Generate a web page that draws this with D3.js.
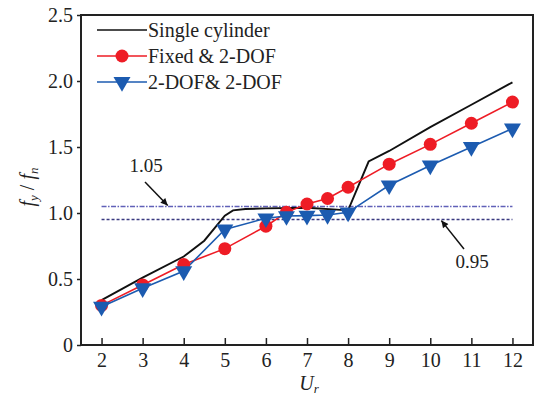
<!DOCTYPE html>
<html>
<head>
<meta charset="utf-8">
<script src="https://cdn.jsdelivr.net/npm/d3@7"></script>
<style>
body { margin: 0; background: #fff; }
svg { display: block; font-family: "Liberation Serif", "Times New Roman", serif; }
</style>
</head>
<body>
<div id="main"></div>
<script>
// data
var singleX = [2, 3, 4, 4.5, 5, 5.2, 5.5, 6, 7, 8, 8.5, 9, 10, 11, 12];
var singleY = [0.34, 0.51, 0.67, 0.79, 0.98, 1.02, 1.03, 1.035, 1.04, 1.02, 1.39, 1.47, 1.65, 1.82, 1.99];
var fixedX = [2, 3, 4, 5, 6, 6.5, 7, 7.5, 8, 9, 10, 11, 12];
var fixedY = [0.30, 0.455, 0.61, 0.73, 0.90, 1.005, 1.068, 1.11, 1.195, 1.37, 1.52, 1.68, 1.84];
var dofX = [2, 3, 4, 5, 6, 6.5, 7, 7.5, 8, 9, 10, 11, 12];
var dofY = [0.29, 0.43, 0.56, 0.875, 0.96, 0.977, 0.98, 0.985, 1.005, 1.21, 1.36, 1.50, 1.64];
var xTicks = [2, 3, 4, 5, 6, 7, 8, 9, 10, 11, 12];
var yTicks = [0, 0.5, 1.0, 1.5, 2.0, 2.5];
var refLines = [1.05, 0.95];
var legendNames = ["Single cylinder", "Fixed & 2-DOF", "2-DOF& 2-DOF"];

var W = 534, H = 397;
var margin = {top: 15, right: 1, bottom: 52, left: 81};

var svg = d3.select("#main").append("svg")
	.attr("width", W).attr("height", H);

var x = d3.scaleLinear().domain([1.5, 12.5]).range([margin.left, W - margin.right]);
var y = d3.scaleLinear().domain([0, 2.5]).range([H - margin.bottom, margin.top]);

var red = "#ee1c25", blue = "#1c5bb0";

// frame
svg.append("rect")
	.attr("x", x(1.5)).attr("y", y(2.5))
	.attr("width", x(12.5) - x(1.5)).attr("height", y(0) - y(2.5))
	.attr("fill", "none").attr("stroke", "#222").attr("stroke-width", 2);

// x axis, ticks inward
var xAxis = svg.append("g")
	.attr("transform", "translate(0," + y(0) + ")")
	.call(d3.axisBottom(x).tickValues(xTicks).tickSizeInner(-7).tickSizeOuter(0).tickPadding(8));
xAxis.select(".domain").remove();
xAxis.selectAll("line").attr("stroke", "#222").attr("stroke-width", 1.5);
xAxis.selectAll("text").attr("font-size", 20).attr("fill", "#222").attr("font-family", "Liberation Serif");

// y axis, ticks outward
var yAxis = svg.append("g")
	.attr("transform", "translate(" + x(1.5) + ",0)")
	.call(d3.axisLeft(y).tickValues(yTicks).tickSizeInner(4).tickSizeOuter(0).tickPadding(4)
		.tickFormat(d => d === 0 ? "0" : d3.format(".1f")(d)));
yAxis.select(".domain").remove();
yAxis.selectAll("line").attr("stroke", "#222").attr("stroke-width", 1.5);
yAxis.selectAll("text").attr("font-size", 20).attr("fill", "#222").attr("font-family", "Liberation Serif");

// reference lines
svg.append("line")
	.attr("x1", x(2)).attr("x2", x(12)).attr("y1", y(refLines[0])).attr("y2", y(refLines[0]))
	.attr("stroke", "#6060b8").attr("stroke-width", 1.5).attr("stroke-dasharray", "5,1.5,1.5,1.5");
svg.append("line")
	.attr("x1", x(2)).attr("x2", x(12)).attr("y1", y(refLines[1])).attr("y2", y(refLines[1]))
	.attr("stroke", "#3a3a80").attr("stroke-width", 1.5).attr("stroke-dasharray", "3,2");

// arrows
svg.append("defs").append("marker")
	.attr("id", "arr").attr("viewBox", "0 0 10 10").attr("refX", 10).attr("refY", 5)
	.attr("markerWidth", 11).attr("markerHeight", 7).attr("markerUnits", "userSpaceOnUse")
	.attr("orient", "auto")
	.append("path").attr("d", "M0,0L10,5L0,10z").attr("fill", "#111");

svg.append("line")
	.attr("x1", 145).attr("y1", 182).attr("x2", x(3.61)).attr("y2", y(refLines[0]) - 1)
	.attr("stroke", "#111").attr("stroke-width", 1.5).attr("marker-end", "url(#arr)");
svg.append("text").attr("x", 146).attr("y", 172).attr("text-anchor", "middle")
	.attr("font-size", 19).attr("fill", "#222").text("1.05");

svg.append("line")
	.attr("x1", 464).attr("y1", 249).attr("x2", x(10.27)).attr("y2", y(refLines[1]) + 1)
	.attr("stroke", "#111").attr("stroke-width", 1.5).attr("marker-end", "url(#arr)");
svg.append("text").attr("x", 472).attr("y", 268).attr("text-anchor", "middle")
	.attr("font-size", 19).attr("fill", "#222").text("0.95");

var line = d3.line().x(d => x(d[0])).y(d => y(d[1]));

svg.append("path")
	.datum(d3.zip(singleX, singleY))
	.attr("d", line).attr("fill", "none").attr("stroke", "#111").attr("stroke-width", 1.9);

svg.append("path")
	.datum(d3.zip(fixedX, fixedY))
	.attr("d", line).attr("fill", "none").attr("stroke", red).attr("stroke-width", 1.6);

svg.append("path")
	.datum(d3.zip(dofX, dofY))
	.attr("d", line).attr("fill", "none").attr("stroke", blue).attr("stroke-width", 1.6);

var tri = d3.symbol().type(d3.symbolTriangle).size(125);

svg.append("g").selectAll("circle")
	.data(d3.zip(fixedX, fixedY))
	.join("circle")
	.attr("cx", d => x(d[0])).attr("cy", d => y(d[1])).attr("r", 6.5)
	.attr("fill", red);

svg.append("g").selectAll("path")
	.data(d3.zip(dofX, dofY))
	.join("path")
	.attr("d", tri)
	.attr("transform", d => "translate(" + x(d[0]) + "," + y(d[1]) + ") rotate(180)")
	.attr("fill", blue);

// legend
var leg = svg.append("g");
var legY = [30, 56, 82];
var legCol = ["#111", red, blue];
legendNames.forEach(function(name, i) {
	leg.append("line").attr("x1", 97).attr("x2", 147).attr("y1", legY[i]).attr("y2", legY[i])
		.attr("stroke", legCol[i]).attr("stroke-width", 1.6);
	if (i === 1) leg.append("circle").attr("cx", 122).attr("cy", legY[i]).attr("r", 6.5).attr("fill", red);
	if (i === 2) leg.append("path").attr("d", tri).attr("transform", "translate(122," + legY[i] + ") rotate(180)").attr("fill", blue);
	leg.append("text").attr("x", 148).attr("y", legY[i] + 7).attr("font-size", 20).attr("fill", "#222").text(name);
});

// axis titles
var xt = svg.append("text").attr("x", 309).attr("y", 390).attr("text-anchor", "middle")
	.attr("font-size", 20).attr("font-style", "italic").attr("fill", "#222");
xt.append("tspan").text("U");
xt.append("tspan").attr("font-size", 13).attr("dy", 3).text("r");

var yt = svg.append("text").attr("transform", "translate(34,187) rotate(-90)").attr("text-anchor", "middle")
	.attr("font-size", 20).attr("font-style", "italic").attr("fill", "#222");
yt.append("tspan").text("f");
yt.append("tspan").attr("font-size", 13).attr("dy", 4).text("y");
yt.append("tspan").attr("dy", -4).attr("font-style", "normal").text(" / ");
yt.append("tspan").text("f");
yt.append("tspan").attr("font-size", 13).attr("dy", 4).text("n");
</script>
</body>
</html>
